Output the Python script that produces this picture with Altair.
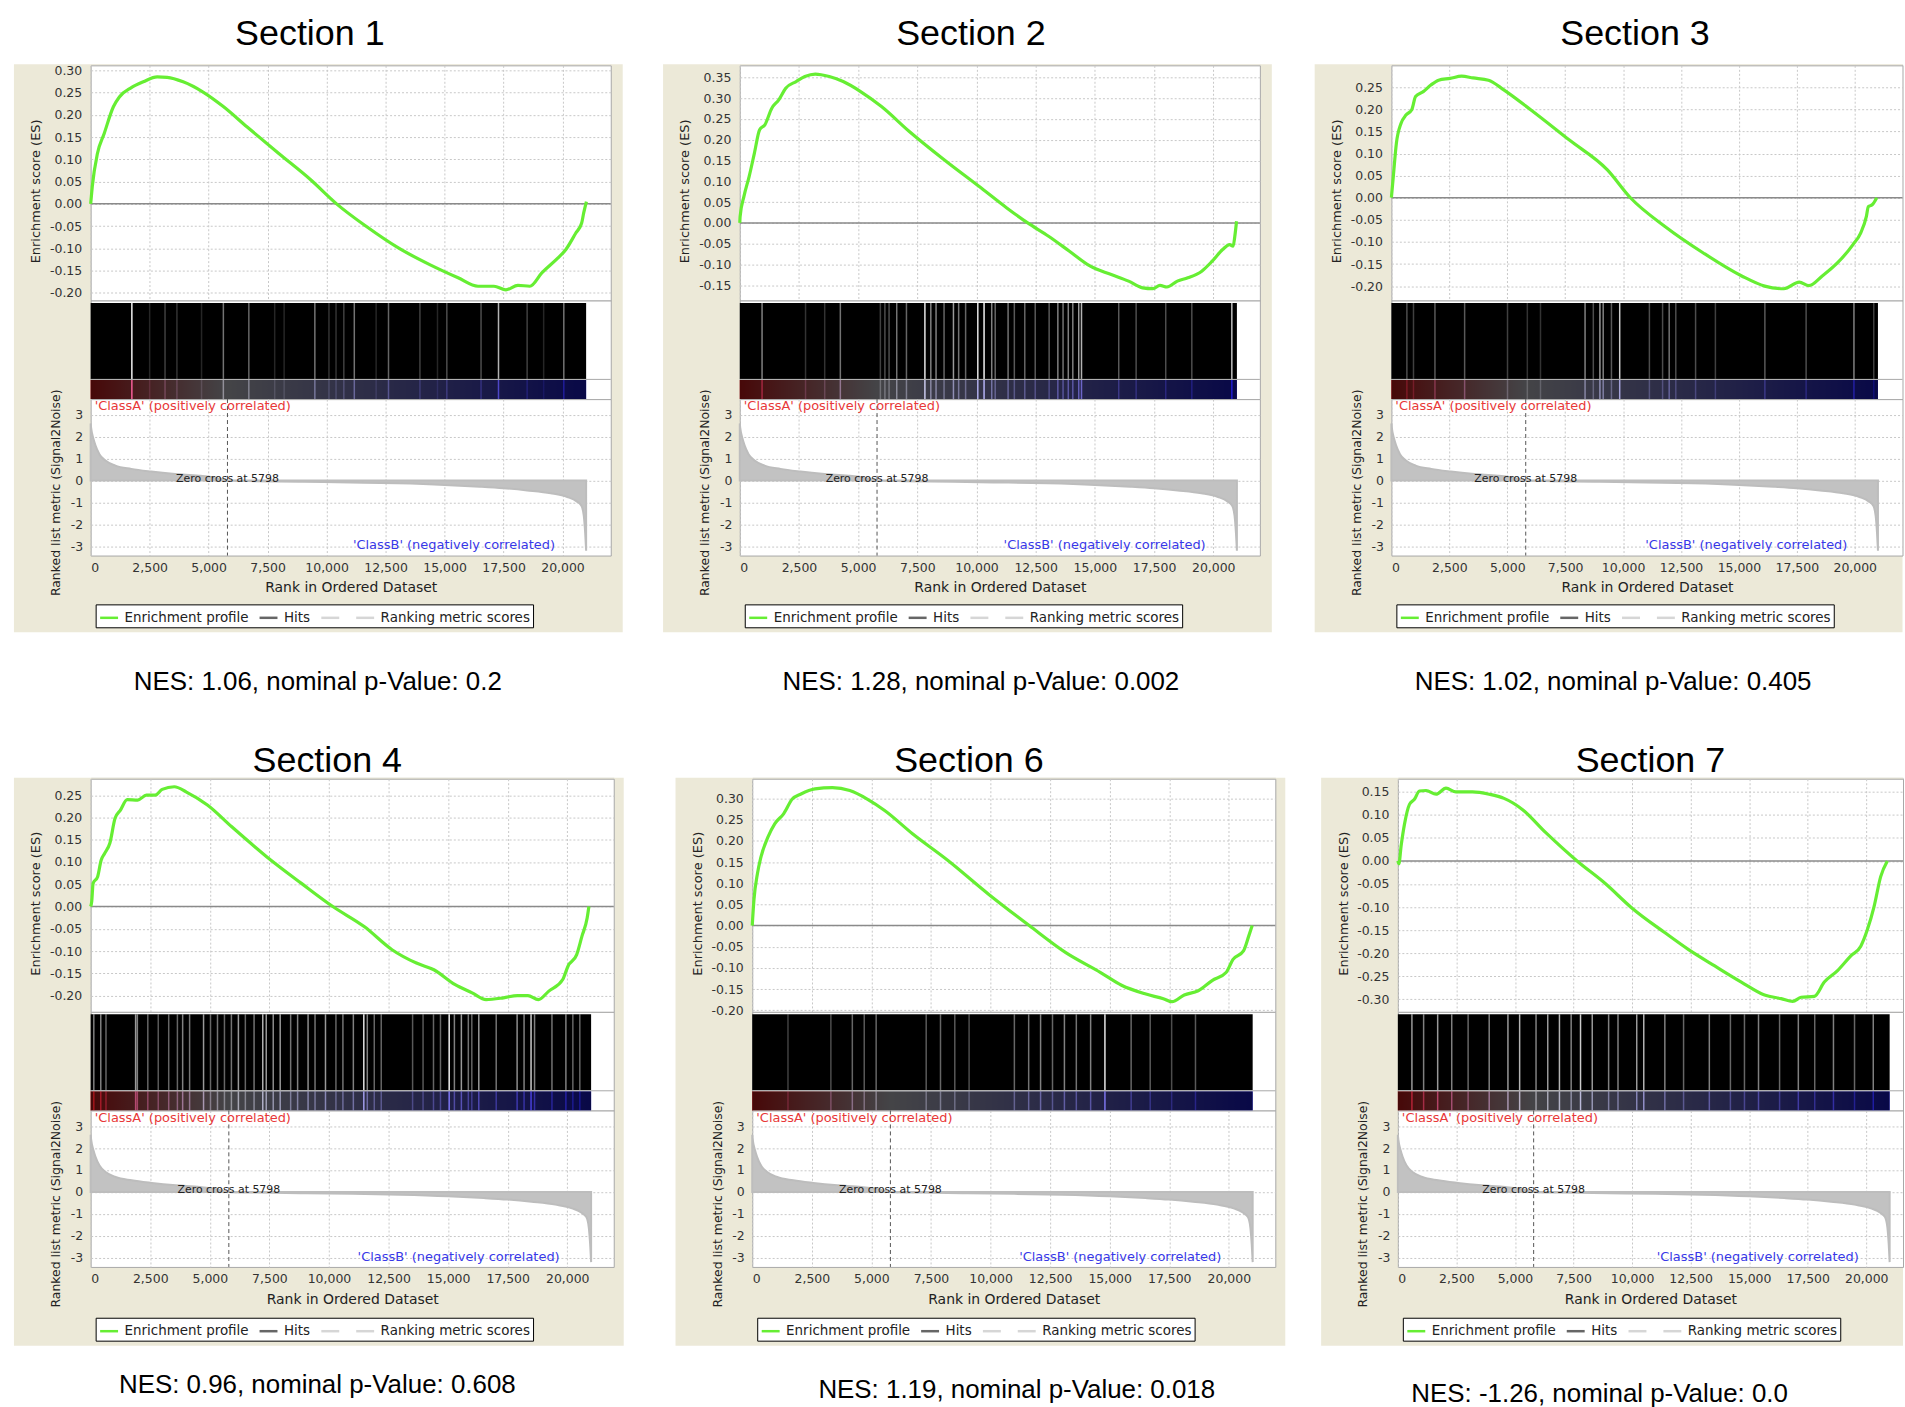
import altair as alt
import pandas as pd

# ------------------------------------------------------------------ data
SECTION_TITLES = ["Section 1", "Section 2", "Section 3", "Section 4", "Section 6", "Section 7"]
NES_LABELS = [
    "NES: 1.06, nominal p-Value: 0.2",
    "NES: 1.28, nominal p-Value: 0.002",
    "NES: 1.02, nominal p-Value: 0.405",
    "NES: 0.96, nominal p-Value: 0.608",
    "NES: 1.19, nominal p-Value: 0.018",
    "NES: -1.26, nominal p-Value: 0.0",
]

# running enrichment score (rank, ES) per section
S1_RANK = [0, 68, 287, 574, 963, 1216, 1723, 2230, 2821, 3243, 3919, 4764, 5608, 6622, 7973, 9324, 10422,
           11689, 13041, 14392, 15574, 16419, 17095, 17601, 18108, 18615, 19122, 19797, 20135, 20557, 20811, 20895, 21013]
S1_ES = [0.0, 0.039, 0.113, 0.158, 0.218, 0.240, 0.261, 0.274, 0.285, 0.284, 0.274, 0.251, 0.219, 0.173, 0.113, 0.054, 0.0,
         -0.051, -0.099, -0.137, -0.166, -0.185, -0.185, -0.193, -0.183, -0.185, -0.155, -0.122, -0.103, -0.066, -0.043, -0.021, 0.005]

S2_RANK = [0, 15, 176, 397, 618, 838, 1059, 1353, 1647, 1941, 2382, 2750, 3191, 3779, 4368, 5103, 5985, 7162, 8632,
           10103, 11279, 12162, 13044, 13926, 14809, 15691, 16426, 17015, 17456, 17750, 18044, 18485, 18926, 19515,
           19956, 20397, 20691, 20838, 20912, 20985]
S2_ES = [0.0, 0.016, 0.064, 0.112, 0.168, 0.224, 0.236, 0.276, 0.296, 0.324, 0.340, 0.352, 0.358, 0.352, 0.340, 0.316,
         0.280, 0.220, 0.152, 0.088, 0.036, 0.0, -0.032, -0.068, -0.104, -0.124, -0.140, -0.156, -0.158, -0.150, -0.154,
         -0.140, -0.132, -0.116, -0.092, -0.064, -0.052, -0.056, -0.032, 0.004]

S3_RANK = [0, 83, 215, 414, 629, 878, 1043, 1375, 1706, 2037, 2534, 3031, 3527, 4190, 4852, 6011, 7667, 9323, 10317,
           11807, 13463, 15119, 16113, 16941, 17603, 18017, 18597, 19260, 19922, 20253, 20501, 20584, 20750, 20950]
S3_ES = [0.0, 0.048, 0.123, 0.168, 0.187, 0.199, 0.229, 0.240, 0.255, 0.266, 0.270, 0.275, 0.271, 0.266, 0.244, 0.199,
         0.131, 0.063, 0.0, -0.065, -0.125, -0.177, -0.200, -0.206, -0.191, -0.199, -0.177, -0.147, -0.106, -0.080,
         -0.042, -0.020, -0.016, 0.0]

S4_RANK = [0, 44, 102, 292, 439, 585, 804, 1023, 1243, 1535, 1974, 2339, 2705, 3000, 3509, 4020, 4898, 5921, 7383, 8845,
           10160, 11477, 12646, 13670, 14401, 15278, 16009, 16594, 17325, 17910, 18348, 18787, 19226, 19810, 20030,
           20395, 20614, 20834, 20907]
S4_ES = [0.0, 0.011, 0.052, 0.067, 0.104, 0.119, 0.142, 0.198, 0.216, 0.240, 0.239, 0.250, 0.250, 0.263, 0.269, 0.257,
         0.228, 0.179, 0.112, 0.052, 0.0, -0.045, -0.097, -0.127, -0.142, -0.175, -0.194, -0.209, -0.205, -0.200, -0.200,
         -0.209, -0.190, -0.164, -0.134, -0.108, -0.067, -0.026, 0.0]

S6_RANK = [0, 73, 219, 365, 658, 950, 1316, 1681, 2047, 2632, 3363, 4094, 4825, 5556, 6725, 8187, 9942, 11623, 13158,
           14620, 15497, 16521, 17252, 17617, 18129, 18714, 19298, 19883, 20176, 20614, 20834, 20980]
S6_ES = [0.0, 0.061, 0.123, 0.162, 0.209, 0.241, 0.264, 0.299, 0.311, 0.323, 0.326, 0.319, 0.299, 0.272, 0.217, 0.155,
         0.073, 0.0, -0.064, -0.111, -0.141, -0.162, -0.173, -0.180, -0.164, -0.154, -0.130, -0.111, -0.080, -0.060,
         -0.025, 0.0]

S7_RANK = [0, 43, 142, 283, 496, 708, 921, 1205, 1630, 2055, 2480, 3188, 3897, 4534, 5314, 6306, 7652, 8856, 9990,
           11407, 12399, 13532, 14666, 15658, 16366, 16862, 17217, 17784, 18209, 18775, 19342, 19767, 20050, 20334,
           20617, 20901]
S7_ES = [0.0, -0.006, 0.034, 0.080, 0.123, 0.134, 0.152, 0.153, 0.145, 0.158, 0.150, 0.150, 0.145, 0.136, 0.112, 0.062,
         0.0, -0.049, -0.102, -0.156, -0.192, -0.228, -0.263, -0.291, -0.299, -0.305, -0.296, -0.294, -0.263, -0.238,
         -0.206, -0.185, -0.149, -0.099, -0.034, 0.0]

# ES axis tick labels per section
S1_TICKS = [-0.20, -0.15, -0.10, -0.05, 0.00, 0.05, 0.10, 0.15, 0.20, 0.25, 0.30]
S2_TICKS = [-0.15, -0.10, -0.05, 0.00, 0.05, 0.10, 0.15, 0.20, 0.25, 0.30, 0.35]
S3_TICKS = [-0.20, -0.15, -0.10, -0.05, 0.00, 0.05, 0.10, 0.15, 0.20, 0.25]
S4_TICKS = [-0.20, -0.15, -0.10, -0.05, 0.00, 0.05, 0.10, 0.15, 0.20, 0.25]
S6_TICKS = [-0.20, -0.15, -0.10, -0.05, 0.00, 0.05, 0.10, 0.15, 0.20, 0.25, 0.30]
S7_TICKS = [-0.30, -0.25, -0.20, -0.15, -0.10, -0.05, 0.00, 0.05, 0.10, 0.15]

# gaps (ranks without hits) visible in the hit barcode: rank and brightness
S1_GAP_RANK = [1746, 2500, 3152, 3656, 4700, 5624, 6704, 7800, 8200, 9502, 10100, 10400, 10730, 11174, 12100, 12624,
               13956, 14700, 15096, 16546, 17286, 18500, 19200, 20054]
S1_GAP_ALPHA = [0.95, 0.15, 0.25, 0.2, 0.15, 0.45, 0.4, 0.15, 0.15, 0.45, 0.2, 0.2, 0.25, 0.45, 0.15, 0.4,
                0.25, 0.15, 0.3, 0.3, 0.7, 0.25, 0.15, 0.45]
S2_GAP_RANK = [941, 2778, 3587, 4248, 5939, 6130, 6306, 6630, 7041, 7820, 8070, 8291, 8629, 9026, 9246, 9540, 10055,
               10319, 10643, 10790, 11334, 11598, 12039, 12480, 13068, 13436, 13656, 13877, 14068, 14318, 14435, 16008,
               16743, 17993, 19095, 20786]
S2_GAP_ALPHA = [0.5, 0.2, 0.2, 0.45, 0.25, 0.3, 0.3, 0.45, 0.4, 0.9, 0.5, 0.5, 0.4, 0.6, 0.45, 0.4, 0.9,
                0.95, 0.5, 0.4, 0.45, 0.35, 0.4, 0.35, 0.35, 0.5, 0.45, 0.5, 0.5, 0.6, 0.7, 0.35,
                0.3, 0.3, 0.3, 0.75]
S3_GAP_RANK = [669, 954, 1880, 3161, 5012, 5867, 6436, 8359, 8715, 9000, 9142, 9498, 9854, 11136, 11705, 11990, 12275,
               13129, 13984, 16120, 17900, 19964, 20819]
S3_GAP_ALPHA = [0.3, 0.25, 0.35, 0.35, 0.25, 0.2, 0.2, 0.5, 0.3, 0.6, 0.5, 0.35, 0.8, 0.3, 0.3, 0.45, 0.3,
                0.3, 0.25, 0.35, 0.3, 0.5, 0.25]
S4_GAP_RANK = [132, 424, 643, 1886, 1959, 2398, 2836, 3275, 3640, 3860, 4152, 4737, 5029, 5322, 5614, 5906, 6199, 6491,
               6857, 7222, 7368, 7661, 7953, 8392, 8684, 9123, 9415, 9854, 10292, 10585, 11023, 11462, 11608, 11901,
               12193, 13509, 13948, 14386, 14679, 15044, 15263, 15556, 15848, 15994, 16287, 17018, 17895, 18187, 18480,
               18627, 19357, 19942, 20234, 20527]
S4_GAP_ALPHA = [0.5, 0.5, 0.4, 0.6, 0.5, 0.4, 0.35, 0.4, 0.4, 0.5, 0.45, 0.6, 0.4, 0.45, 0.4, 0.45, 0.6, 0.4,
                0.45, 0.7, 0.6, 0.55, 0.6, 0.45, 0.5, 0.55, 0.45, 0.6, 0.4, 0.45, 0.5, 0.9, 0.5, 0.4,
                0.4, 0.35, 0.35, 0.4, 0.4, 0.95, 0.5, 0.6, 0.45, 0.4, 0.6, 0.45, 0.55, 0.5, 0.8,
                0.5, 0.45, 0.5, 0.4, 0.4]
S6_GAP_RANK = [1500, 3300, 4200, 4700, 5200, 7300, 7900, 8500, 9100, 11000, 11600, 12100, 12600, 13100, 13600, 14200,
               14800, 15900, 16700, 17600, 18600]
S6_GAP_ALPHA = [0.25, 0.3, 0.4, 0.35, 0.4, 0.35, 0.4, 0.35, 0.3, 0.4, 0.45, 0.5, 0.4, 0.5, 0.45, 0.5,
                0.9, 0.4, 0.35, 0.3, 0.35]
S7_GAP_RANK = [600, 1100, 1700, 2300, 3000, 3900, 4700, 5200, 5900, 6400, 6900, 7400, 7800, 8300, 9000, 9400, 10200,
               10500, 11400, 12200, 13300, 14200, 14800, 15400, 16300, 17100, 17800, 18600, 19500, 20300]
S7_GAP_ALPHA = [0.6, 0.5, 0.6, 0.5, 0.4, 0.5, 0.6, 0.7, 0.5, 0.6, 0.7, 0.5, 0.8, 0.6, 0.5, 0.5, 0.6,
                0.7, 0.5, 0.4, 0.5, 0.4, 0.4, 0.5, 0.4, 0.5, 0.4, 0.5, 0.4, 0.5]

HITS_END = 21000

# ranked list metric (same ranked list for every section)
METRIC_RANK = [0, 20, 118, 203, 371, 625, 1047, 1722, 2566, 3579, 4591, 5300, 5798, 7000, 9000, 11000, 13000, 15000,
               16500, 17500, 18500, 19500, 20200, 20600, 20800, 20900, 20960, 21000]
METRIC_VAL = [2.6, 2.4, 1.9, 1.6, 1.2, 0.91, 0.68, 0.53, 0.41, 0.30, 0.22, 0.12, 0.0, -0.03, -0.06, -0.09, -0.13,
              -0.20, -0.28, -0.35, -0.45, -0.58, -0.75, -0.95, -1.15, -1.6, -2.4, -3.2]
ZERO_CROSS = 5798

X_TICKS = [0, 2500, 5000, 7500, 10000, 12500, 15000, 17500, 20000]
METRIC_TICKS = [-3, -2, -1, 0, 1, 2, 3]

LEGEND_ITEMS = ["Enrichment profile", "Hits", " ", "Ranking metric scores"]
LEGEND_COLORS = ["#66EE33", "#666666", "#d6d6d6", "#d6d6d6"]

# ------------------------------------------------------------------ style
FONT = "DejaVu Sans"
TFONT = "Liberation Sans"
BEIGE = "#ECE9D8"
GRID = "#c8c8c8"
BORDER = "#a8a8a8"
MINUS_FIX = "replace(datum.label, '\u2212', '-')"

PANELS = [
    dict(rank=S1_RANK, es=S1_ES, ticks=S1_TICKS, dom=[-0.217, 0.311], gr=S1_GAP_RANK, ga=S1_GAP_ALPHA,
         w=522, xmax=22044, es_h=236, t_off=-17, t_dx=-41, n_off=95, n_dx=-33, fr=12, ext=(-62, 670)),
    dict(rank=S2_RANK, es=S2_ES, ticks=S2_TICKS, dom=[-0.1865, 0.379], gr=S2_GAP_RANK, ga=S2_GAP_ALPHA,
         w=522, xmax=21970, es_h=236, t_off=-17, t_dx=-29, n_off=95, n_dx=-19, fr=12, ext=(-62, 670)),
    dict(rank=S3_RANK, es=S3_ES, ticks=S3_TICKS, dom=[-0.2325, 0.2995], gr=S3_GAP_RANK, ga=S3_GAP_ALPHA,
         w=513, xmax=22060, es_h=236, t_off=-17, t_dx=-12, n_off=95, n_dx=-34, fr=0, ext=(-62, 670)),
    dict(rank=S4_RANK, es=S4_ES, ticks=S4_TICKS, dom=[-0.2366, 0.287], gr=S4_GAP_RANK, ga=S4_GAP_ALPHA,
         w=525, xmax=21950, es_h=234, t_off=-30, t_dx=-25, n_off=86, n_dx=-35, fr=10, ext=(-30, 0)),
    dict(rank=S6_RANK, es=S6_ES, ticks=S6_TICKS, dom=[-0.204, 0.347], gr=S6_GAP_RANK, ga=S6_GAP_ALPHA,
         w=525, xmax=21950, es_h=234, t_off=-30, t_dx=-45, n_off=91, n_dx=3, fr=10, ext=(-30, 0)),
    dict(rank=S7_RANK, es=S7_ES, ticks=S7_TICKS, dom=[-0.3277, 0.1786], gr=S7_GAP_RANK, ga=S7_GAP_ALPHA,
         w=507, xmax=21570, es_h=234, t_off=-30, t_dx=0, n_off=95, n_dx=-51, fr=0, ext=(-30, 0)),
]

HITS_H = 99
RANK_H = 157
FRAME_H = 570


def grid_axis(**kw):
    base = dict(grid=True, gridColor=GRID, gridDash=[2, 2], gridWidth=1, domain=False, tickSize=0,
                labelFont=FONT, labelFontSize=12.5, labelColor="#333333",
                titleFont=FONT, titleFontWeight="normal", titleColor="#222222")
    base.update(kw)
    return alt.Axis(**base)


def make_panel(i):
    p = PANELS[i]
    W = p["w"]
    one = pd.DataFrame({"k": [1]})

    # ---- beige frame + section title
    bg = alt.Chart(one).mark_rect(color=BEIGE).encode(
        x=alt.value(-77), x2=alt.value(W + p["fr"]), y=alt.value(0), y2=alt.value(FRAME_H)
    ).properties(
        width=W, height=1,
        title=alt.TitleParams(text=SECTION_TITLES[i], anchor="middle", frame="group", orient="top",
                              offset=p["t_off"], dx=p["t_dx"], baseline="alphabetic", font=TFONT,
                              fontSize=36, fontWeight="normal", color="black"))

    # ---- enrichment score plot
    x_es = alt.X("rank:Q", scale=alt.Scale(domain=[0, p["xmax"]], nice=False, zero=False),
                 axis=grid_axis(values=X_TICKS, labels=False, title=None))
    y_es = alt.Y("es:Q", scale=alt.Scale(domain=p["dom"], nice=False, zero=False),
                 axis=grid_axis(values=p["ticks"], format=".2f", labelExpr=MINUS_FIX, labelPadding=9,
                                title="Enrichment score (ES)", titleFontSize=13, titleX=-55,
                                titleY=p["es_h"] / 2 + 8, titleBaseline="middle", titleAngle=270))
    es_df = pd.DataFrame({"rank": p["rank"], "es": p["es"], "series": "Enrichment profile"})
    zero_df = pd.DataFrame({"es": [0.0]})
    # invisible box that fixes the vertical extent of each row
    extent = alt.Chart(one).mark_rect(opacity=0).encode(
        x=alt.value(0), x2=alt.value(W), y=alt.value(p["ext"][0]), y2=alt.value(p["ext"][1]))
    zero = alt.Chart(zero_df).mark_rule(color="#8a8a8a", strokeWidth=1.5).encode(y=y_es)
    line = alt.Chart(es_df).mark_line(strokeWidth=3.2, interpolate="monotone").encode(
        x=x_es, y=y_es,
        color=alt.Color("series:N", scale=alt.Scale(domain=LEGEND_ITEMS, range=LEGEND_COLORS),
                        legend=alt.Legend(title=None, orient="none", legendX=5, legendY=541,
                                          direction="horizontal", symbolType="stroke", symbolSize=324,
                                          symbolStrokeWidth=2.5, labelFont=FONT, labelFontSize=13.5,
                                          labelColor="#222222", labelOffset=5, columnPadding=5,
                                          padding=3, strokeColor="black", fillColor="white")))
    es = alt.layer(extent, zero, line).properties(
        width=W, height=p["es_h"],
        view=alt.ViewBackground(fill="white", stroke=BORDER, strokeWidth=1))

    # ---- hit barcode
    xh = alt.Scale(domain=[0, p["xmax"]], nice=False, zero=False)
    yh = alt.Scale(domain=[0, 1], nice=False, zero=False)
    strip = pd.DataFrame({"start": [0], "end": [HITS_END], "lo": [0.0], "hi": [0.195], "mid": [0.205], "top": [0.975]})
    gaps = pd.DataFrame({"rank": p["gr"], "alpha": p["ga"], "lo": 0.0, "hi": 0.195, "mid": 0.205, "top": 0.975})
    grad = alt.LinearGradient(gradient="linear", x1=0, x2=1, y1=0, y2=0, stops=[
        alt.GradientStop(color="#ff2020", offset=0),
        alt.GradientStop(color="#f4f4ff", offset=ZERO_CROSS / HITS_END),
        alt.GradientStop(color="#2020ff", offset=1)])
    hx = alt.X("start:Q", scale=xh, axis=None)
    color_strip = alt.Chart(strip).mark_rect(color=grad).encode(
        x=hx, x2="end:Q", y=alt.Y("lo:Q", scale=yh, axis=None), y2="hi:Q")
    dark_strip = alt.Chart(strip).mark_rect(color="black", opacity=0.72).encode(
        x=hx, x2="end:Q", y=alt.Y("lo:Q", scale=yh, axis=None), y2="hi:Q")
    black_strip = alt.Chart(strip).mark_rect(color="black").encode(
        x=hx, x2="end:Q", y=alt.Y("mid:Q", scale=yh, axis=None), y2="top:Q")
    gap_up = alt.Chart(gaps).mark_rule(color="white", strokeWidth=1.5).encode(
        x=alt.X("rank:Q", scale=xh, axis=None), y=alt.Y("mid:Q", scale=yh, axis=None), y2="top:Q",
        opacity=alt.Opacity("alpha:Q", scale=None))
    gap_dn = alt.Chart(gaps).mark_rule(strokeWidth=1.5).encode(
        x=alt.X("rank:Q", scale=xh, axis=None), y=alt.Y("lo:Q", scale=yh, axis=None), y2="hi:Q",
        color=alt.Color("rank:Q", scale=alt.Scale(domain=[0, ZERO_CROSS, HITS_END],
                                                  range=["#ff2020", "#f4f4ff", "#2020ff"]), legend=None),
        opacity=alt.Opacity("alpha:Q", scale=None))
    sep = alt.Chart(pd.DataFrame({"lo": [0.2]})).mark_rule(color=BORDER, strokeWidth=1).encode(
        y=alt.Y("lo:Q", scale=yh, axis=None))
    hits = alt.layer(color_strip, dark_strip, black_strip, gap_up, gap_dn, sep).properties(
        width=W, height=HITS_H,
        view=alt.ViewBackground(fill="white", stroke=BORDER, strokeWidth=1))

    # ---- ranked list metric
    x_r = alt.X("rank:Q", scale=alt.Scale(domain=[0, p["xmax"]], nice=False, zero=False),
                axis=grid_axis(values=X_TICKS, format=",.0f", labelPadding=6, title="Rank in Ordered Dataset",
                               titleFontSize=14, titlePadding=7))
    y_r = alt.Y("metric:Q", scale=alt.Scale(domain=[-3.42, 3.71], nice=False, zero=False),
                axis=grid_axis(values=METRIC_TICKS, format=".0f", labelExpr=MINUS_FIX, labelPadding=8,
                               title="Ranked list metric (Signal2Noise)", titleFontSize=12.5, titleX=-35,
                               titleY=RANK_H / 2 + 15, titleBaseline="middle", titleAngle=270))
    met_df = pd.DataFrame({"rank": METRIC_RANK, "metric": METRIC_VAL})
    area = alt.Chart(met_df).mark_area(color="#c2c2c2", stroke="#bdbdbd", strokeWidth=2,
                                       interpolate="monotone").encode(x=x_r, y=y_r, y2=alt.datum(0))
    zc = alt.Chart(pd.DataFrame({"rank": [ZERO_CROSS]})).mark_rule(
        color="#555555", strokeDash=[4, 3], strokeWidth=1).encode(x=x_r)
    zc_txt = alt.Chart(pd.DataFrame({"rank": [ZERO_CROSS], "metric": [0.08],
                                     "t": ["Zero cross at " + str(ZERO_CROSS)]})).mark_text(
        font=FONT, fontSize=11, color="#222222", baseline="middle", align="center").encode(
        x=x_r, y=y_r, text="t:N")
    cls_a = alt.Chart(pd.DataFrame({"rank": [170], "metric": [3.38],
                                    "t": ["'ClassA' (positively correlated)"]})).mark_text(
        font=FONT, fontSize=13, color="#e83838", baseline="middle", align="left").encode(
        x=x_r, y=y_r, text="t:N")
    cls_b = alt.Chart(pd.DataFrame({"rank": [19680], "metric": [-2.95],
                                    "t": ["'ClassB' (negatively correlated)"]})).mark_text(
        font=FONT, fontSize=13, color="#3838e8", baseline="middle", align="right").encode(
        x=x_r, y=y_r, text="t:N")
    rk = alt.layer(area, zc, zc_txt, cls_a, cls_b).properties(
        width=W, height=RANK_H,
        view=alt.ViewBackground(fill="white", stroke=BORDER, strokeWidth=1),
        title=alt.TitleParams(text=NES_LABELS[i], orient="bottom", anchor="middle", frame="group",
                              offset=p["n_off"], dx=p["n_dx"], baseline="alphabetic", font=TFONT,
                              fontSize=26, fontWeight="normal", color="black"))

    return alt.vconcat(bg, es, hits, rk, spacing=0, bounds="flush").resolve_scale(
        x="independent", y="independent", color="independent").resolve_legend(color="independent")


def hc(a, b, sp):
    return alt.hconcat(a, b, spacing=sp).resolve_scale(
        x="independent", y="independent", color="independent").resolve_legend(color="independent")


row1 = hc(make_panel(0), hc(make_panel(1), make_panel(2), 41), 38.5)
row2 = hc(make_panel(3), hc(make_panel(4), make_panel(5), 34), 50)

chart = alt.vconcat(row1, row2, spacing=8,
                    padding={"left": 13, "top": 0, "right": 0, "bottom": 0}).resolve_scale(
    x="independent", y="independent", color="independent").resolve_legend(
    color="independent").configure_view(strokeWidth=0).configure(background="white")

chart.save("out.html", embed_options={"renderer": "svg", "actions": False})
